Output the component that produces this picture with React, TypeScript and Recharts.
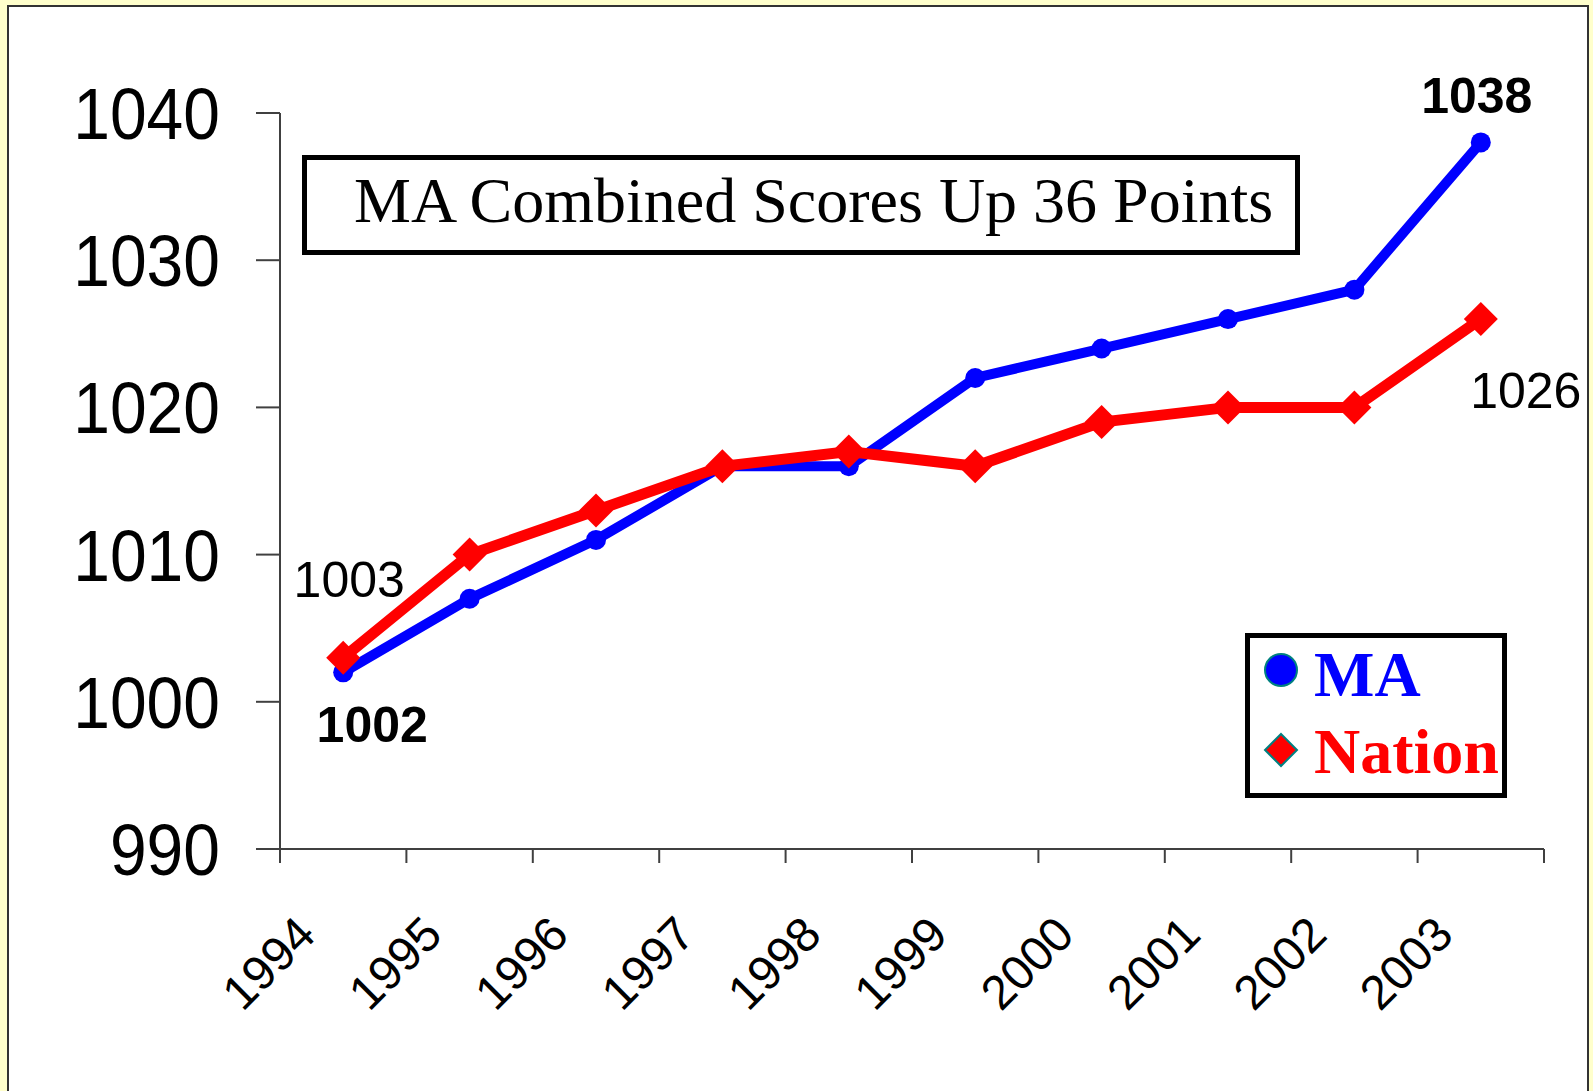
import React from 'react';
import { LineChart, Line, XAxis, YAxis } from 'recharts';

const years = ['1994', '1995', '1996', '1997', '1998', '1999', '2000', '2001', '2002', '2003'];
const maScores = [1002, 1007, 1011, 1016, 1016, 1022, 1024, 1026, 1028, 1038];
const nationScores = [1003, 1010, 1013, 1016, 1017, 1016, 1019, 1020, 1020, 1026];
const yTicks = [990, 1000, 1010, 1020, 1030, 1040];
const xTicks = [0, 1, 2, 3, 4, 5, 6, 7, 8, 9, 10];
const titleText = 'MA Combined Scores Up 36 Points';
const seriesNames = ['MA', 'Nation'];

const data = years.map((year, i) => ({ x: i + 0.5, year, ma: maScores[i], nation: nationScores[i] }));

const SANS = 'Arial, "Liberation Sans", sans-serif';
const SERIF = '"Times New Roman", "Liberation Serif", serif';
const AXIS = '#404040';

const XTick = (props: any) => {
  const { x, payload } = props;
  const idx = payload.value;
  if (idx >= years.length) return null;
  const tx = x + 38;
  const ty = 937;
  return (
    <text x={tx} y={ty} textAnchor="end" fontFamily={SANS} fontSize={48} fill="#000"
      transform={`rotate(-45, ${tx}, ${ty})`}>
      {years[idx]}
    </text>
  );
};

const YTick = (props: any) => {
  const { x, y, payload } = props;
  const bx = x;
  const by = y + 26;
  return (
    <text x={bx} y={by} textAnchor="end" fontFamily={SANS} fontSize={66} fill="#000"
      transform={`translate(${bx}, ${by}) scale(1, 1.1) translate(${-bx}, ${-by})`}>
      {payload.value}
    </text>
  );
};

const CircleDot = (props: any) => {
  const { cx, cy } = props;
  if (cx == null || cy == null) return null;
  return <circle cx={cx} cy={cy} r={10} fill="#0000FF" />;
};

const DiamondDot = (props: any) => {
  const { cx, cy } = props;
  if (cx == null || cy == null) return null;
  const h = 17;
  return <polygon points={`${cx},${cy - h} ${cx + h},${cy} ${cx},${cy + h} ${cx - h},${cy}`} fill="#FF0000" />;
};

const makeLabel = (spec: Record<number, { dx: number; dy: number; bold: boolean }>) => (props: any) => {
  const { x, y, index, value } = props;
  const s = spec[index];
  if (!s) return null;
  return (
    <text x={x + s.dx} y={y + s.dy} textAnchor="middle" fontFamily={SANS} fontSize={50}
      fontWeight={s.bold ? 'bold' : 'normal'} fill="#000">
      {value}
    </text>
  );
};

const maLabel = makeLabel({ 0: { dx: 29, dy: 70, bold: true }, 9: { dx: -4, dy: -29, bold: true } });
const nationLabel = makeLabel({ 0: { dx: 6, dy: -61, bold: false }, 9: { dx: 45, dy: 89, bold: false } });

const LegendBox = () => (
  <svg width={262} height={165} style={{ position: 'absolute', left: 1245, top: 633 }}>
    <rect x={2.5} y={2.5} width={257} height={160} fill="#fff" stroke="#000" strokeWidth={5} />
    <circle cx={36} cy={37} r={16} fill="#0000FF" stroke="#008080" strokeWidth={2} />
    <text x={69} y={63} fontFamily={SERIF} fontWeight="bold" fontSize={64} fill="#0000FF">{seriesNames[0]}</text>
    <polygon points="36,101 52,117 36,133 20,117" fill="#FF0000" stroke="#008080" strokeWidth={2} />
    <text x={69} y={140} fontFamily={SERIF} fontWeight="bold" fontSize={64} fill="#FF0000">{seriesNames[1]}</text>
  </svg>
);

export default function App() {
  return (
    <div style={{ position: 'absolute', left: 0, top: 0, width: 1593, height: 1091, overflow: 'hidden', background: '#FFFFCC' }}>
      <div style={{ position: 'absolute', left: 7, top: 5, width: 1582, height: 1200, boxSizing: 'border-box', border: '2px solid #333', background: '#fff' }} />
      <div style={{ position: 'absolute', left: 0, top: 0 }}>
        <LineChart width={1593} height={1091} data={data} margin={{ top: 113, right: 49, bottom: 212, left: 0 }}>
          <XAxis dataKey="x" type="number" domain={[0, 10]} ticks={xTicks} interval={0}
            tick={<XTick />} tickSize={14} height={30}
            axisLine={{ stroke: AXIS, strokeWidth: 2 }} tickLine={{ stroke: AXIS, strokeWidth: 2 }} />
          <YAxis type="number" domain={[990, 1040]} ticks={yTicks} interval={0} width={280}
            tickSize={24} tickMargin={36}
            tick={<YTick />}
            axisLine={{ stroke: AXIS, strokeWidth: 2 }} tickLine={{ stroke: AXIS, strokeWidth: 2 }} />
          <Line type="linear" dataKey="ma" name={seriesNames[0]} stroke="#0000FF" strokeWidth={10}
            dot={<CircleDot />} activeDot={false} label={maLabel} isAnimationActive={false} />
          <Line type="linear" dataKey="nation" name={seriesNames[1]} stroke="#FF0000" strokeWidth={11}
            dot={<DiamondDot />} activeDot={false} label={nationLabel} isAnimationActive={false} />
        </LineChart>
      </div>
      <LegendBox />
      <svg style={{ position: 'absolute', left: 300, top: 153 }} width={1002} height={104}>
        <rect x={4.5} y={4.5} width={993} height={95} fill="#fff" stroke="#000" strokeWidth={5} />
        <text x={54} y={69} fontFamily={SERIF} fontSize={64} fill="#000">{titleText}</text>
      </svg>
    </div>
  );
}
